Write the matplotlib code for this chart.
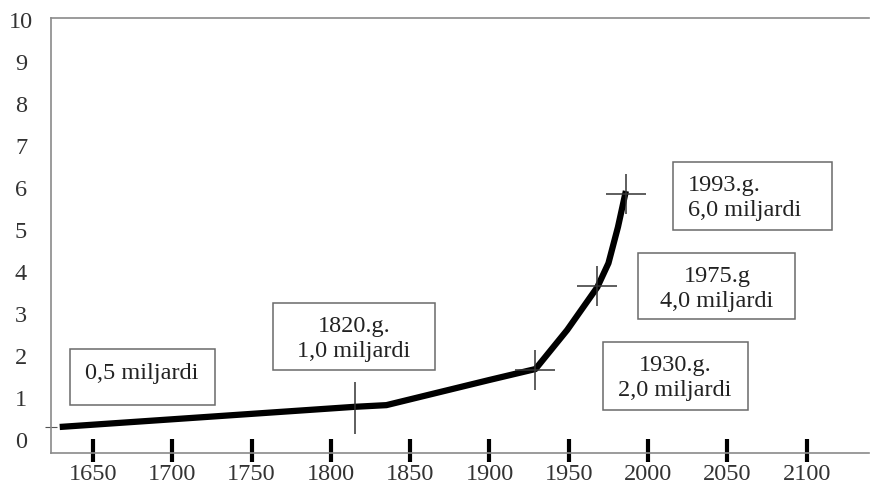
import matplotlib
matplotlib.use("Agg")
import matplotlib.pyplot as plt
from matplotlib.patches import Rectangle

# ---- data ----
years = [1629, 1815, 1835, 1900, 1929, 1949, 1968, 1975, 1981, 1986]
population = [0.31, 0.79, 0.83, 1.43, 1.69, 2.62, 3.64, 4.21, 5.07, 5.93]

cross_years = [1929, 1968, 1986]
cross_values = [1.67, 3.67, 5.86]
vline_year = [1815]
vline_value = [0.75]

x_ticks = [1650, 1700, 1750, 1800, 1850, 1900, 1950, 2000, 2050, 2100]
y_ticks = list(range(0, 11))

labels = [
    "0,5 miljardi",
    "1820.g.\n1,0 miljardi",
    "1993.g.\n6,0 miljardi",
    "1975.g\n4,0 miljardi",
    "1930.g.\n2,0 miljardi",
]

# ---- layout (pixel boxes: left, top, right, bottom) ----
W, H = 871, 488
boxes = [(70, 349, 215, 405), (273, 303, 435, 370), (673, 162, 832, 230),
         (638, 253, 795, 319), (603, 342, 748, 410)]
text_pos = [(142, 373, "center"), (354, 339, "center"), (688, 198, "left"),
            (717, 289, "center"), (675, 378, "center")]

FONT = "Liberation Serif"
FS = 17.5
fig = plt.figure(figsize=(W / 100, H / 100), dpi=100)
ax_l, ax_r, ax_t, ax_b = 51, 869, 18, 453
ax = fig.add_axes([ax_l / W, 1 - ax_b / H, (ax_r - ax_l) / W, (ax_b - ax_t) / H])

ax.set_xlim(1623.5, 2139.3)
ax.set_ylim(-0.31, 10.05)

for s in ["left", "top", "bottom"]:
    ax.spines[s].set_color("#8a8a8a")
    ax.spines[s].set_linewidth(1.2)
ax.spines["right"].set_visible(False)

ax.plot(years, population, color="black", lw=4.5, solid_capstyle="butt",
        solid_joinstyle="round", zorder=3)
ax.plot(cross_years, cross_values, linestyle="none", marker="+", markersize=29,
        markeredgewidth=1.1, color="#333333", zorder=4)
ax.plot(vline_year, vline_value, linestyle="none", marker="|", markersize=38,
        markeredgewidth=1.1, color="#333333", zorder=4)

# x ticks: thick marks straddling the spine
ax.set_xticks(x_ticks)
ax.set_xticks(x_ticks, minor=True)
ax.xaxis.remove_overlapping_locs = False
ax.tick_params(axis="x", which="major", direction="in", length=10, width=3,
               color="black", pad=8, labelsize=FS, labelcolor="#333333")
ax.tick_params(axis="x", which="minor", direction="out", length=6.5, width=3,
               color="black", labelbottom=False)
for lab in ax.get_xticklabels():
    lab.set_fontfamily(FONT)

ax.set_yticks(y_ticks)
ax.set_yticks([population[0]], minor=True)
ax.tick_params(axis="y", which="major", length=0, pad=21.6, labelsize=FS,
               labelcolor="#333333")
ax.tick_params(axis="y", which="minor", direction="inout", length=8,
               width=0.8, color="#555555")
for lab in ax.get_yticklabels():
    lab.set_fontfamily(FONT)
    lab.set_horizontalalignment("center")

# annotation boxes
for (l, t, r, b), (tx, ty, ha), txt in zip(boxes, text_pos, labels):
    fig.patches.append(Rectangle((l / W, 1 - b / H), (r - l) / W, (b - t) / H,
                                 transform=fig.transFigure, fill=False,
                                 edgecolor="#6a6a6a", lw=1.1, zorder=5))
    fig.text(tx / W, 1 - ty / H, txt, ha=ha, va="center", multialignment=ha,
             fontsize=FS, family=FONT, color="#222222", linespacing=1.3)

fig.savefig("out.png", dpi=100)
